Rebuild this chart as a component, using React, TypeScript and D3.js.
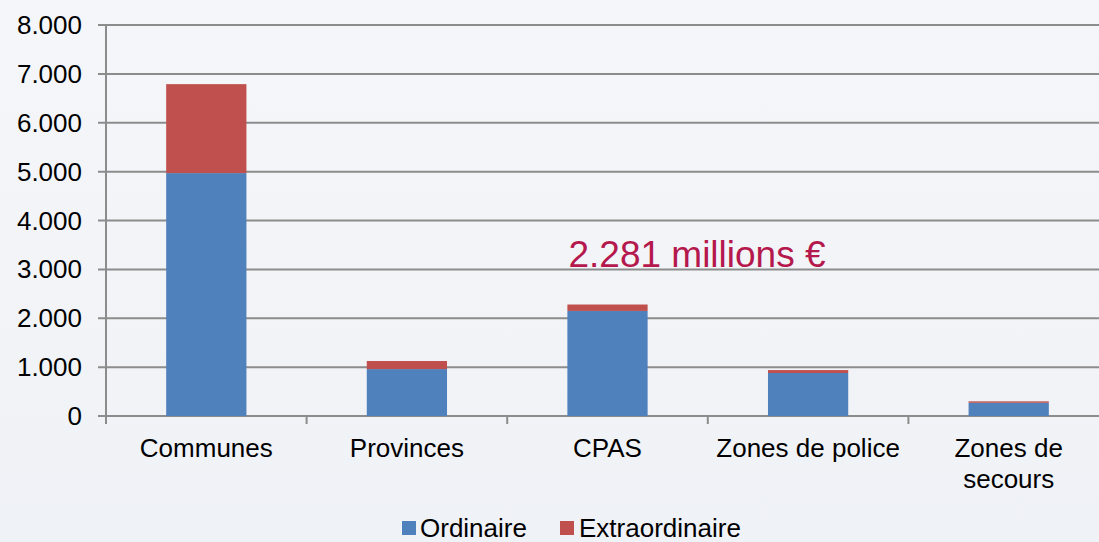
import React from 'react';
import * as d3 from 'd3';

const categories = ['Communes', 'Provinces', 'CPAS', 'Zones de police', 'Zones de secours'];
const ordinaire = [4970, 960, 2150, 880, 270];
const extraordinaire = [1820, 165, 131, 60, 30];
const yTicks = [0, 1000, 2000, 3000, 4000, 5000, 6000, 7000, 8000];
const seriesNames = ['Ordinaire', 'Extraordinaire'];
const annotation = '2.281 millions €';

const W = 1099;
const H = 542;
const colors = ['#4f81bd', '#c0504d'];

const App = () => {
  const x = d3.scaleBand().domain(categories).range([106, 1109]).paddingInner(0.6).paddingOuter(0.3);
  const band = d3.scaleBand().domain(categories).range([106, 1109]);
  const y = d3.scaleLinear().domain([0, 8000]).range([416, 25]);
  const fmt = (v: number) => d3.format(',')(v).replace(/,/g, '.');

  const rows = categories.map((c, i) => ({ cat: c, Ordinaire: ordinaire[i], Extraordinaire: extraordinaire[i] }));
  const stacked = d3.stack<any>().keys(seriesNames)(rows);

  return (
    <svg width={W} height={H} style={{ position: 'absolute', left: 0, top: 0, fontFamily: 'Liberation Sans, Arial, sans-serif' }}>
      <defs>
        <linearGradient id="bg" x1="0" y1="0" x2="0" y2="1">
          <stop offset="0" stopColor="#f5f6f9" />
          <stop offset="1" stopColor="#eff2f6" />
        </linearGradient>
      </defs>
      <rect width={W} height={H} fill="url(#bg)" />
      {yTicks.map(t => (
        <g key={t}>
          <line x1={98} x2={W} y1={y(t)} y2={y(t)} stroke="#8c8c8c" strokeWidth={2} />
          <text x={82} y={y(t)} dy="0.35em" textAnchor="end" fontSize={26} fill="#000">{fmt(t)}</text>
        </g>
      ))}
      <line x1={106} x2={106} y1={25} y2={424} stroke="#8c8c8c" strokeWidth={2} />
      {categories.map(c => (
        <line key={c} x1={band(c)!} x2={band(c)!} y1={416} y2={424} stroke="#8c8c8c" strokeWidth={2} />
      ))}
      {stacked.map((s, si) => (
        <g key={s.key} fill={colors[si]}>
          {s.map((d, i) => (
            <rect key={i} x={x(categories[i])!} width={x.bandwidth()} y={y(d[1])} height={y(d[0]) - y(d[1])} />
          ))}
        </g>
      ))}
      {categories.map(c => {
        const cx = x(c)! + x.bandwidth() / 2;
        const words = c === 'Zones de secours' ? ['Zones de', 'secours'] : [c];
        return words.map((w, j) => (
          <text key={c + j} x={cx} y={457 + j * 31} textAnchor="middle" fontSize={26} fill="#000">{w}</text>
        ));
      })}
      <text x={697} y={267} textAnchor="middle" fontSize={37} fill="#b5184c">{annotation}</text>
      <g>
        <rect x={402} y={521} width={14} height={14} fill={colors[0]} />
        <text x={420} y={537} fontSize={26} fill="#000">{seriesNames[0]}</text>
        <rect x={560} y={521} width={14} height={14} fill={colors[1]} />
        <text x={579} y={537} fontSize={26} fill="#000">{seriesNames[1]}</text>
      </g>
    </svg>
  );
};

export default App;
